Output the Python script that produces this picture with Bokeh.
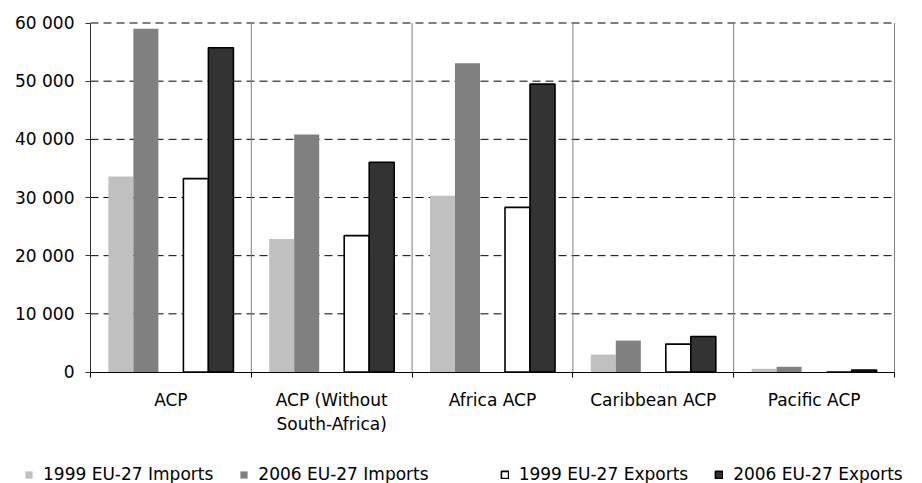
import numpy as np
from bokeh.plotting import figure
from bokeh.models import (ColumnDataSource, Range1d, FixedTicker, Legend, LegendItem,
                          LinearAxis)
from bokeh.transform import dodge
from bokeh.embed import file_html
from bokeh.resources import INLINE

categories = ["ACP", "ACP (Without\nSouth-Africa)", "Africa ACP", "Caribbean ACP", "Pacific ACP"]
imports_1999 = [33600, 22850, 30300, 3000, 560]
imports_2006 = [59000, 40850, 53100, 5400, 900]
blank_series = [0, 0, 0, 0, 0]
exports_1999 = [33250, 23450, 28300, 4800, 0]
exports_2006 = [55750, 36050, 49500, 6100, 350]
series_names = ["1999 EU-27 Imports", "2006 EU-27 Imports", "", "1999 EU-27 Exports", "2006 EU-27 Exports"]
y_ticks = [0, 10000, 20000, 30000, 40000, 50000, 60000]
y_tick_labels = ["0", "10 000", "20 000", "30 000", "40 000", "50 000", "60 000"]

FONT = "DejaVu Sans"
FS = "17px"

# layout (pixels inside the figure)
W, H = 922, 483
PL, PR, PT, PB = 90, 894, 22.5, 371.5   # plot-area edges
n = len(categories)
ymax = y_ticks[-1]
xs = (PR - PL) / n
ys = (PB - PT) / ymax
x_range = Range1d(-PL / xs, n + (W - PR) / xs)
y_range = Range1d(-(H - PB) / ys, ymax + PT / ys)

xc = np.arange(n) + 0.5
bounds = np.arange(1, n + 1)
src = ColumnDataSource(dict(x=xc, imp99=imports_1999, imp06=imports_2006, blank=blank_series,
                            exp99=exports_1999, exp06=exports_2006))

p = figure(width=W, height=H, output_backend="svg", toolbar_location=None,
           x_range=x_range, y_range=y_range, min_border=0,
           x_axis_type=None, y_axis_type=None)
p.outline_line_color = None
p.background_fill_color = "white"
p.border_fill_color = "white"

# gridlines (limited to the plot area)
p.segment(x0=0, x1=n, y0=y_ticks[1:], y1=y_ticks[1:], line_color="black",
          line_dash="8 5", line_width=1)
p.segment(x0=bounds, x1=bounds, y0=0, y1=ymax, line_color="#808080", line_width=1)

slot = 0.1555
bw = 0.1555
styles = [
    ("imp99", "#C0C0C0", None, 0),
    ("imp06", "#808080", None, 0),
    ("blank", "white", None, 0),
    ("exp99", "white", "black", 1.6),
    ("exp06", "#333333", "black", 1.6),
]
renderers = []
for i, (col, fc, lc, lw) in enumerate(styles):
    off = (i - 2) * slot
    if col == "blank":
        r = p.vbar(x=dodge("x", off), top=col, width=bw, source=src, fill_alpha=0, line_alpha=0)
    else:
        r = p.vbar(x=dodge("x", off), top=col, width=bw, source=src,
                   fill_color=fc, line_color=lc, line_width=lw if lw else 1,
                   line_alpha=1 if lc else 0)
    renderers.append(r)

# y axis
yax = LinearAxis(ticker=FixedTicker(ticks=y_ticks, minor_ticks=[]), fixed_location=0,
                 bounds=(0, ymax))
yax.major_label_overrides = {t: l for t, l in zip(y_ticks, y_tick_labels)}
yax.major_tick_out = 5
yax.major_tick_in = 0
yax.minor_tick_line_color = None
yax.axis_line_color = "#333333"
yax.major_tick_line_color = "#333333"
yax.major_label_text_font = FONT
yax.major_label_text_font_size = FS
yax.major_label_text_color = "black"
yax.major_label_standoff = 11
p.add_layout(yax, "left")

# x axis: labels at centers, ticks at boundaries (minor)
xax = LinearAxis(ticker=FixedTicker(ticks=list(xc), minor_ticks=list(range(n + 1))),
                 fixed_location=0, bounds=(0, n))
xax.major_label_overrides = {float(x): c for x, c in zip(xc, categories)}
xax.major_tick_out = 0
xax.major_tick_in = 0
xax.minor_tick_out = 5
xax.minor_tick_in = 0
xax.minor_tick_line_color = "black"
xax.axis_line_color = "black"
xax.major_label_text_font = FONT
xax.major_label_text_font_size = FS
xax.major_label_text_color = "black"
xax.major_label_standoff = 13
p.add_layout(xax, "below")

items = [LegendItem(label=nm, renderers=[r]) for nm, r in zip(series_names, renderers)]
legend = Legend(items=items, orientation="horizontal", location=(24, -1),
                glyph_width=9, glyph_height=9, label_standoff=10, spacing=26, label_width=0,
                padding=0, margin=0, border_line_color=None, background_fill_alpha=0,
                label_text_font=FONT, label_text_font_size=FS, label_text_color="black")
p.add_layout(legend, "center")

open("out.html", "w").write(file_html(p, INLINE))
